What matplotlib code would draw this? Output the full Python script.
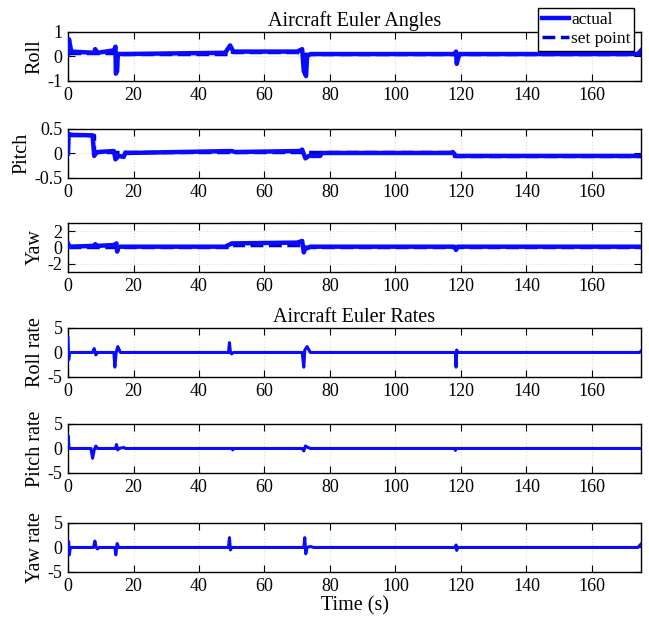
import matplotlib.pyplot as plt

plt.rcParams['font.family'] = ['Liberation Serif', 'DejaVu Serif']
plt.rcParams['axes.unicode_minus'] = False

# time axis limits
t_max = 175

# roll angle
roll_t = [0, 0.3, 1, 8, 8.3, 9, 14, 14.5, 14.6, 15, 15.2, 16, 48, 49.5, 50.5, 70, 71.5, 72, 72.7, 73, 74,
          118, 118.5, 118.7, 119.5, 174, 175]
roll_v = [0.1, 0.7, 0.2, 0.15, 0.3, 0.15, 0.25, 0.4, -0.7, -0.6, 0.1, 0.1, 0.15, 0.45, 0.2, 0.2, 0.3, -0.6, -0.8,
          0.0, 0.1, 0.1, 0.2, -0.3, 0.1, 0.1, 0.25]
roll_sp_t = [0, 15, 15, 50, 50, 72, 72, 175]
roll_sp_v = [0.15, 0.15, 0.12, 0.12, 0.18, 0.18, 0.1, 0.1]

# pitch angle
pitch_t = [0, 0.2, 1, 7.5, 8, 8.5, 9, 14, 14.5, 15.5, 17, 17.5, 18, 50, 51, 71, 71.5, 72.5, 73.5, 77, 77.5,
           117, 117.5, 118.5, 175]
pitch_v = [0, 0.4, 0.38, 0.37, -0.05, 0.0, 0.03, 0.05, -0.12, -0.05, -0.07, 0.02, 0.01, 0.05, 0.03, 0.05, 0.08,
           -0.1, -0.05, -0.05, 0.01, 0.01, 0.03, -0.05, -0.05]
pitch_sp_t = [0, 8, 8, 118, 118, 175]
pitch_sp_v = [0.37, 0.37, 0.02, 0.02, -0.05, -0.05]

# yaw angle
yaw_t = [0, 0.5, 8, 8.3, 9, 14, 14.8, 15, 15.3, 16, 48, 50, 70, 71.5, 72, 72.5, 73, 74, 118, 118.5, 119, 175]
yaw_v = [0.5, 0.1, 0.2, 0.4, 0.2, 0.3, 0.5, -0.5, 0.0, 0.1, 0.1, 0.5, 0.6, 0.8, -0.6, 0.0, -0.1, 0.1, 0.1,
         -0.3, 0.1, 0.1]
yaw_sp_t = [0, 50, 50, 72, 72, 175]
yaw_sp_v = [0.1, 0.1, 0.25, 0.25, 0.1, 0.1]

# roll rate
p_t = [0, 0.2, 0.5, 7.5, 8, 8.5, 9, 14, 14.3, 14.7, 15.2, 16, 49, 49.3, 49.6, 50, 50.5, 71.5, 72, 72.3, 73, 74,
       118.3, 118.5, 118.7, 119, 174.5, 175]
p_v = [3, -1.5, 0, 0, 0.8, -0.5, 0, 0, -3, 0, 1.2, 0, 0, 2, 0, -0.3, 0, 0, -3, 0.5, 1.2, 0,
       0, -3, 0.5, 0, 0, 0.3]

# pitch rate
q_t = [0, 0.1, 0.3, 7, 7.5, 8, 8.5, 9, 14.5, 14.8, 15.2, 15.5, 17, 17.5, 50, 50.3, 50.6, 71.5, 72, 72.5, 73, 74,
       118, 118.3, 118.6, 175]
q_v = [0, 2.5, 0, 0, -2, -0.3, 0.5, 0, 0, 0.8, -0.3, 0, 0.2, 0, 0, -0.3, 0, 0, -0.5, 0.5, 0.3, 0,
       0, -0.4, 0, 0]

# yaw rate
r_t = [0, 0.2, 0.4, 0.7, 7.8, 8.2, 8.6, 9, 9.5, 14.3, 14.6, 15, 15.5, 49, 49.3, 49.6, 50, 72, 72.3, 72.6, 73,
       74, 75, 118.3, 118.5, 118.7, 119, 174, 175]
r_v = [0, 1.2, -1.5, 0, 0, 1.3, 0, -0.3, 0, 0, -1.5, 0.8, 0, 0, 2, -0.5, 0, 0, 2, -1.3, 0, 0.2, 0, 0, 0.5,
       -0.6, 0, 0, 0.7]

ylabels = ['Roll', 'Pitch', 'Yaw', 'Roll rate', 'Pitch rate', 'Yaw rate']
ylims = [(-1, 1), (-0.5, 0.5), (-3, 3), (-5, 5), (-5, 5), (-5, 5)]
yticks = [[-1, 0, 1], [-0.5, 0, 0.5], [-2, 0, 2], [-5, 0, 5], [-5, 0, 5], [-5, 0, 5]]
series = [(roll_t, roll_v), (pitch_t, pitch_v), (yaw_t, yaw_v), (p_t, p_v), (q_t, q_v), (r_t, r_v)]
setpoints = [(roll_sp_t, roll_sp_v), (pitch_sp_t, pitch_sp_v), (yaw_sp_t, yaw_sp_v), None, None, None]

fig = plt.figure(figsize=(6.49, 6.23), dpi=100)
bottoms = [0.870, 0.7143, 0.5634, 0.3949, 0.2408, 0.0819]
axes = []
for i in range(6):
    ax = fig.add_axes([0.1048, bottoms[i], 0.883, 0.0787])
    axes.append(ax)
    t, v = series[i]
    lw = 3.2 if i < 3 else 2.2
    ax.plot(t, v, color='#0a0aff', lw=lw, label='actual', zorder=3)
    sp = setpoints[i]
    if sp is not None:
        ax.plot(sp[0], sp[1], color='#0000cc', lw=2.5, ls='--', label='set point', zorder=2)
    ax.set_xlim(0, t_max)
    ax.set_ylim(*ylims[i])
    ax.set_yticks(yticks[i])
    ax.set_yticklabels([('%g' % y) for y in yticks[i]])
    ax.set_xticks(range(0, 161, 20))
    ax.set_ylabel(ylabels[i], fontsize=14.5, labelpad=2)
    ax.tick_params(direction='in', top=True, right=True, labelsize=13, length=5, pad=4)
    ax.grid(True, color='#dcdcdc', ls=':', lw=0.8)
    for s in ax.spines.values():
        s.set_linewidth(1.0)

axes[0].set_title('Aircraft Euler Angles', fontsize=14.5, pad=4)
axes[3].set_title('Aircraft Euler Rates', fontsize=14.5, pad=4)
axes[5].set_xlabel('Time (s)', fontsize=14.5, labelpad=1)

h, l = axes[0].get_legend_handles_labels()
leg = fig.legend(h, l, loc='upper right', bbox_to_anchor=(0.977, 0.987), fontsize=12.5, fancybox=False,
                 edgecolor='black', framealpha=1, handlelength=1.6, borderpad=0.2, labelspacing=0.2,
                 handletextpad=0.1, borderaxespad=0)
leg.get_frame().set_linewidth(1.0)

fig.savefig('out.png', dpi=100)
